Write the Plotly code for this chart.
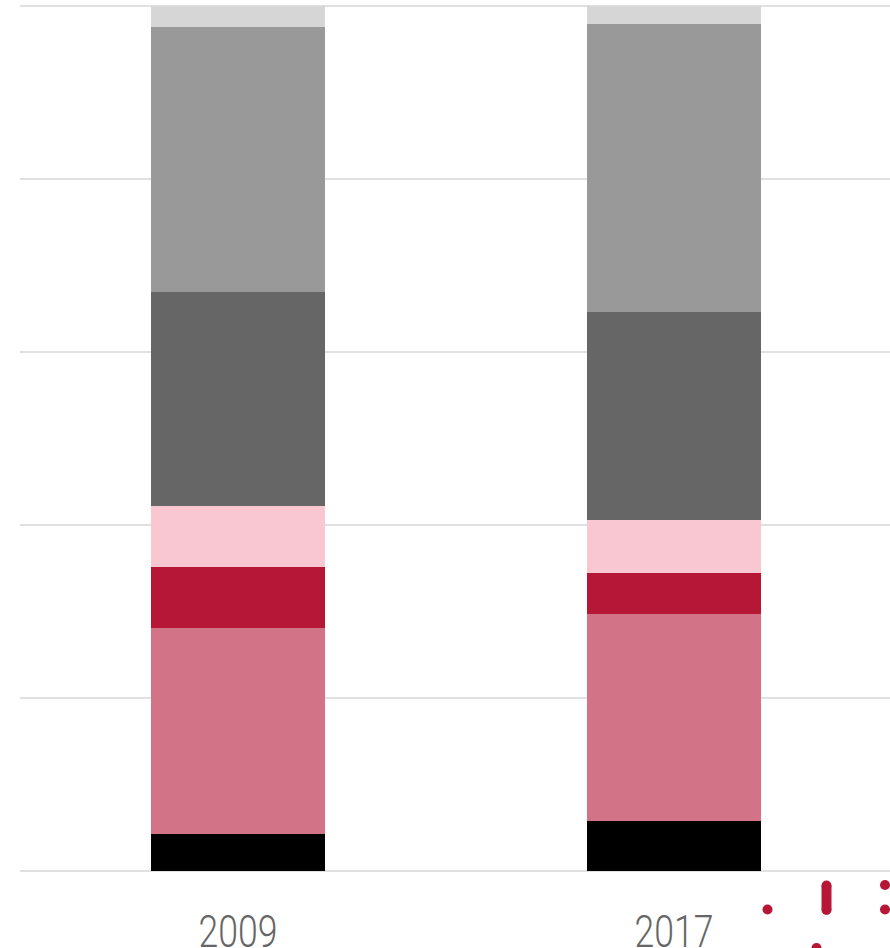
import plotly.graph_objects as go

years = ["2009", "2017"]
series_black = [4.3, 5.8]
series_rose = [23.8, 23.9]
series_crimson = [7.05, 4.75]
series_blush = [7.05, 6.1]
series_dark_grey = [24.7, 24.1]
series_mid_grey = [30.7, 33.3]
series_light_grey = [2.4, 2.05]

W, H = 890, 948
L, T, B = 20, 2, 871
TOP_PX = 6
CRIMSON = "#b71737"

stack = [
    (series_black, "#000000"),
    (series_rose, "#d27387"),
    (series_crimson, CRIMSON),
    (series_blush, "#f8c7d2"),
    (series_dark_grey, "#666666"),
    (series_mid_grey, "#999999"),
    (series_light_grey, "#d6d6d6"),
]

fig = go.Figure()
for values, colour in stack:
    fig.add_bar(x=years, y=values, marker=dict(color=colour, line=dict(width=0)), showlegend=False)


def px(x):
    return (x - L) / (W - L)


def py(y):
    return (B - y) / (B - T)


shapes = []
for cx, cy, r in [(767.5, 909.5, 5), (885, 885, 5), (885, 909.5, 5), (816.5, 948, 5)]:
    shapes.append(dict(type="circle", xref="paper", yref="paper", x0=px(cx - r), x1=px(cx + r),
                       y0=py(cy + r), y1=py(cy - r), fillcolor=CRIMSON, line=dict(width=0)))
shapes.append(dict(type="line", xref="paper", yref="paper", x0=px(826.5), x1=px(826.5),
                   y0=py(885.5), y1=py(910), line=dict(color=CRIMSON, width=10)))
for cy in (885.5, 910):
    shapes.append(dict(type="circle", xref="paper", yref="paper", x0=px(821.5), x1=px(831.5),
                       y0=py(cy + 5), y1=py(cy - 5), fillcolor=CRIMSON, line=dict(width=0)))

y_top = 100 * (B - T) / (B - TOP_PX)

fig.update_layout(
    width=W, height=H, barmode="stack", bargap=0.6,
    margin=dict(l=L, r=0, t=T, b=H - B, pad=0, autoexpand=False),
    paper_bgcolor="white", plot_bgcolor="white",
    shapes=shapes,
    xaxis=dict(type="category", range=[-0.5, 1.4954], showgrid=False, zeroline=False, showline=False,
               automargin=False,
               ticks="", tickfont=dict(family="Roboto", size=45, color="#666666", weight=300),
               ticklabelstandoff=30),
    yaxis=dict(range=[0, y_top], tick0=0, dtick=20, showgrid=True, gridcolor="#e0e0e0", gridwidth=2,
               automargin=False,
               zeroline=True, zerolinecolor="#e0e0e0", zerolinewidth=2, showticklabels=False, ticks=""),
)
post = """
document.body.style.margin='0';document.body.style.overflow='hidden';
document.querySelectorAll('.xtick text').forEach(function(t){
  var tr=t.getAttribute('transform')||'';
  var x=parseFloat(t.getAttribute('x'))||0, y=parseFloat(t.getAttribute('y'))||0;
  t.setAttribute('transform', tr+' translate('+x+','+y+') scale(0.79,1) translate('+(-x)+','+(-y)+')');
});
"""
fig.write_html("out.html", config=dict(displayModeBar=False), post_script=post)
